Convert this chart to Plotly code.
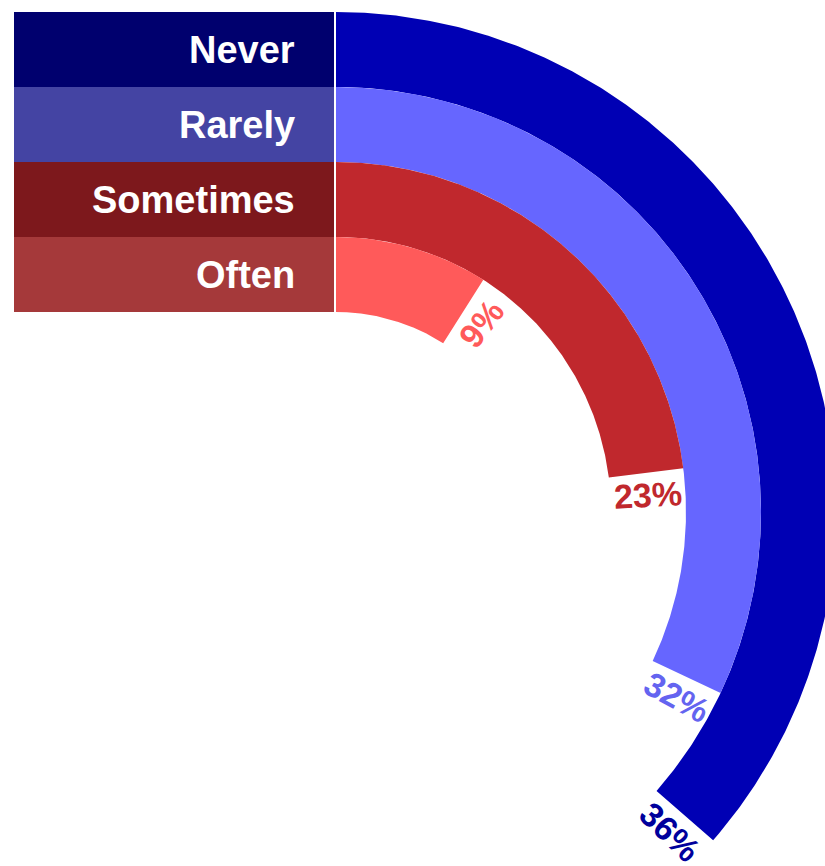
import numpy as np
import plotly.graph_objects as go

# ---- data ----
categories = ["Never", "Rarely", "Sometimes", "Often"]
values = [36.4, 32, 23, 9]           # percent of full circle
pct_labels = ["36%", "32%", "23%", "9%"]
arc_colors = ["#0000B4", "#6666FF", "#C0282D", "#FF5A5A"]
box_colors = ["#00006E", "#4444A3", "#7D181C", "#A5393A"]
text_colors = ["#00009C", "#6464F0", "#C0282D", "#FF5A5A"]

# ---- layout constants ----
W, H = 825, 866
PX = 75.0                 # pixels per radial unit (one ring)
CX, CY = 336, 512         # pixel position of the centre
HOLE = 200 / PX           # inner radius of innermost ring (units)
GAP = 2.5 / PX            # white gap between label boxes and rings
BOX_LEFT = (14 - CX) / PX
LABEL_X = (297 - CX) / PX
FONT = "Liberation Sans, Arial, sans-serif"

fig = go.Figure()
n = len(categories)
r_mids = []
for i, (cat, v) in enumerate(zip(categories, values)):
    r_in = HOLE + (n - 1 - i)
    r_out = r_in + 1
    r_mids.append((r_in + r_out) / 2)
    th = np.linspace(0, np.deg2rad(v * 3.6), 400)
    xs = np.concatenate([r_out * np.sin(th), r_in * np.sin(th[::-1])])
    ys = np.concatenate([r_out * np.cos(th), r_in * np.cos(th[::-1])])
    fig.add_trace(go.Scatter(
        x=xs, y=ys, fill="toself", fillcolor=arc_colors[i],
        mode="lines", line=dict(width=0, color=arc_colors[i]),
        hoverinfo="skip", showlegend=False))

# label boxes as horizontal bars
fig.add_trace(go.Bar(
    orientation="h", y=r_mids, x=[BOX_LEFT + GAP] * n, base=-GAP,
    width=1, marker=dict(color=box_colors, line=dict(width=0)),
    hoverinfo="skip", showlegend=False))

annotations = []
for i, cat in enumerate(categories):
    annotations.append(dict(
        x=LABEL_X, y=r_mids[i], xref="x", yref="y", text=cat,
        showarrow=False, xanchor="right", yanchor="middle",
        font=dict(family=FONT, size=38, color="white", weight="bold")))
    # percentage label just past the end of each arc, rotated radially
    th_end = values[i] * 3.6
    th_lab = th_end + np.rad2deg(22 / (r_mids[i] * PX))
    t = np.deg2rad(th_lab)
    annotations.append(dict(
        x=r_mids[i] * np.sin(t), y=r_mids[i] * np.cos(t),
        xref="x", yref="y", text=pct_labels[i], showarrow=False,
        xanchor="center", yanchor="middle", textangle=th_lab - 90,
        font=dict(family=FONT, size=34, color=text_colors[i], weight="bold")))

fig.update_layout(
    width=W, height=H, margin=dict(l=0, r=0, t=0, b=0),
    paper_bgcolor="white", plot_bgcolor="white",
    xaxis=dict(range=[-CX / PX, (W - CX) / PX], visible=False, fixedrange=True),
    yaxis=dict(range=[-(H - CY) / PX, CY / PX], visible=False, fixedrange=True),
    annotations=annotations, showlegend=False, bargap=0)

fig.write_html("out.html")
